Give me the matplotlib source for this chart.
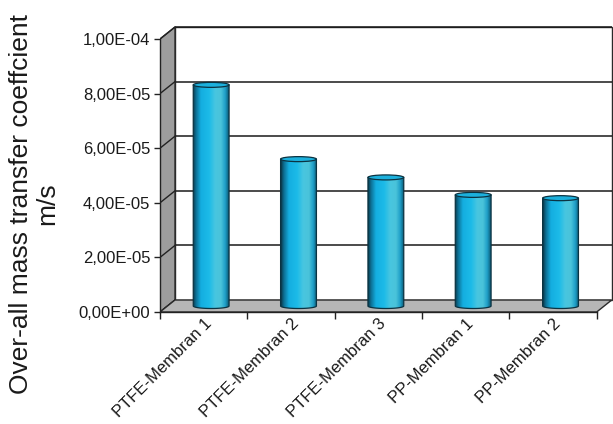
import numpy as np
import matplotlib
matplotlib.use("Agg")
import matplotlib.pyplot as plt
from matplotlib.patches import Polygon, Ellipse, PathPatch
from matplotlib.path import Path
from matplotlib.colors import LinearSegmentedColormap

# ---- data ----
categories = ["PTFE-Membran 1", "PTFE-Membran 2", "PTFE-Membran 3",
              "PP-Membran 1", "PP-Membran 2"]
values = [8.1e-5, 5.38e-5, 4.71e-5, 4.07e-5, 3.95e-5]
yticks = [0.0, 2e-5, 4e-5, 6e-5, 8e-5, 1e-4]
ylabel = "Over-all mass transfer coeffcient\nm/s"

plt.rcParams['font.family'] = ['Liberation Sans', 'DejaVu Sans']
text_color = '#1a1a1a'

fig = plt.figure(figsize=(6.13, 4.24), dpi=100)
W, H = 613, 424
# axes: front-left corner at (160, 312) px
ax = fig.add_axes([160 / W, 112 / H, 453 / W, 292 / H])
px_x = 87.34           # px per category
px_y = 273.0 / 1e-4    # px per unit value
ax.set_xlim(0, 453 / px_x)
ax.set_ylim(0, 292 / px_y)

n = len(categories)
ymax = yticks[-1]
dx = 15 / px_x          # depth offset (category units)
dy = 12 / px_y          # depth offset (value units)
edge = '#2a2a2a'

# back wall
ax.add_patch(Polygon([(dx, dy), (n + dx, dy), (n + dx, ymax + dy), (dx, ymax + dy)],
                     closed=True, fc='white', ec=edge, lw=1.0, zorder=1))
for t in yticks[1:]:
    ax.plot([dx, n + dx], [t + dy, t + dy], color='#1a1a1a', lw=1.1, zorder=2,
            solid_capstyle='butt')
# left wall
ax.add_patch(Polygon([(0, 0), (dx, dy), (dx, ymax + dy), (0, ymax)],
                     closed=True, fc='#9d9d9d', ec=edge, lw=1.0, zorder=3))
for t in yticks:
    ax.plot([0, dx], [t, t + dy], color='#222222', lw=1.0, zorder=3)
# floor
ax.add_patch(Polygon([(0, 0), (n, 0), (n + dx, dy), (dx, dy)],
                     closed=True, fc='#b6b6b6', ec=edge, lw=1.0, zorder=3))

# cylinders
cmap = LinearSegmentedColormap.from_list('cyl', [
    (0.0, '#0a3a4c'), (0.08, '#0d6f93'), (0.22, '#14aee0'), (0.45, '#1cbbe8'),
    (0.62, '#48c6e0'), (0.78, '#4ac3da'), (0.9, '#1f9fc8'), (1.0, '#0c5a76')])
grad = np.linspace(0, 1, 200).reshape(1, -1)
bw = 0.41
eh = 5 / px_y
base = dy / 2
for i, v in enumerate(values):
    cx = i + 0.5 + dx / 2
    x0, x1 = cx - bw / 2, cx + bw / 2
    top = base + v
    ang = np.linspace(np.pi, 2 * np.pi, 40)
    arc = np.column_stack([cx + bw / 2 * np.cos(ang), base + eh / 2 * np.sin(ang)])
    verts = np.vstack([[[x0, top]], arc, [[x1, top]], [[x0, top]]])
    codes = [Path.MOVETO] + [Path.LINETO] * (len(verts) - 2) + [Path.CLOSEPOLY]
    body = PathPatch(Path(verts, codes), fc='none', ec='#0b3342', lw=0.9, zorder=6)
    ax.add_patch(body)
    im = ax.imshow(grad, cmap=cmap, extent=[x0, x1, base - eh / 2, top],
                   aspect='auto', interpolation='bilinear', zorder=5)
    im.set_clip_path(body)
    ax.add_patch(Ellipse((cx, top), bw, eh, fc='#1cb0dc', ec='#0b3342', lw=0.9, zorder=7))

ax.set_xlim(0, 453 / px_x)
ax.set_ylim(0, 292 / px_y)
ax.set_aspect('auto')

# spines / ticks
for s in ['top', 'right']:
    ax.spines[s].set_visible(False)
ax.spines['left'].set_bounds(0, ymax)
ax.spines['bottom'].set_bounds(0, n)
for s in ['left', 'bottom']:
    ax.spines[s].set_color('#222222')
    ax.spines[s].set_linewidth(1.0)
    ax.spines[s].set_zorder(8)

ax.set_yticks(yticks)
ax.set_yticklabels([f"{t:.2E}".replace('.', ',') for t in yticks],
                   fontsize=12, color=text_color)
ax.tick_params(axis='y', direction='out', length=4, width=1, pad=3, colors='#222222',
               labelcolor=text_color)

ax.set_xticks(np.arange(n + 1))
ax.set_xticklabels([])
ax.tick_params(axis='x', which='major', direction='out', length=5, width=1, colors='#222222')
ax.set_xticks(np.arange(n) + 0.5, minor=True)
ax.set_xticklabels(categories, minor=True, rotation=45, ha='right', va='top',
                   rotation_mode='anchor', fontsize=12, color=text_color)
ax.tick_params(axis='x', which='minor', length=0, pad=3)

fig.text(34 / W, 1 - 204 / H, ylabel, rotation=90, ha='center', va='center',
         multialignment='center', fontsize=19, color=text_color, linespacing=1.15)

fig.savefig('out.png', dpi=100)
